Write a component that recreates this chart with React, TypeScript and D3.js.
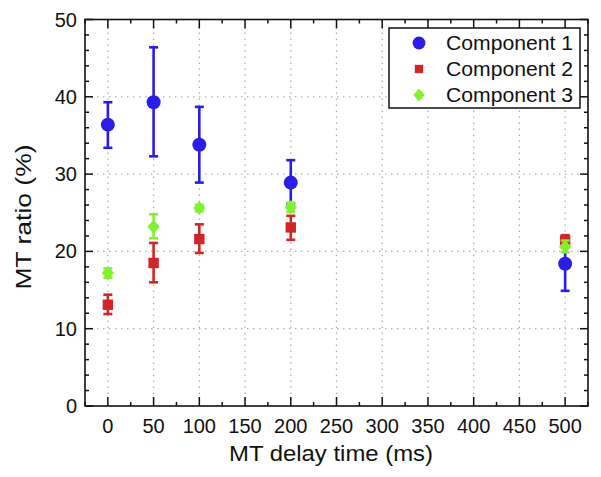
import React from "react";
import * as d3 from "d3";

const delays = [0, 50, 100, 200, 500];
const comp1 = [36.4, 39.3, 33.8, 28.9, 18.4];
const comp1Lo = [33.4, 32.3, 28.9, 26.2, 14.9];
const comp1Hi = [39.3, 46.4, 38.7, 31.8, 21.9];
const comp2 = [13.1, 18.5, 21.6, 23.1, 21.4];
const comp2Lo = [11.9, 16.0, 19.8, 21.5, 20.7];
const comp2Hi = [14.4, 21.1, 23.5, 24.6, 22.1];
const comp3 = [17.2, 23.2, 25.6, 25.7, 20.6];
const comp3Lo = [16.6, 21.7, 25.2, 25.1, 19.9];
const comp3Hi = [17.8, 24.8, 26.0, 26.3, 21.4];
const seriesNames = ["Component 1", "Component 2", "Component 3"];
const xTicks = [0, 50, 100, 150, 200, 250, 300, 350, 400, 450, 500];
const yTicks = [0, 10, 20, 30, 40, 50];

const colors = ["#2a1ee6", "#d02626", "#82f230"];
const FONT = "Liberation Sans, Arial, Helvetica, sans-serif";

export default function App() {
  const W = 601, H = 477;
  const x = d3.scaleLinear().domain([-25, 525]).range([85, 588]);
  const y = d3.scaleLinear().domain([0, 50]).range([406, 19.5]);
  const x0 = x(-25), x1 = x(525), y0 = y(0), y1 = y(50);

  const xMinor = d3.range(-25, 526, 25);
  const yMinor = d3.range(0, 51, 2);

  const series = [
    { v: comp1, lo: comp1Lo, hi: comp1Hi, shape: "circle" },
    { v: comp2, lo: comp2Lo, hi: comp2Hi, shape: "square" },
    { v: comp3, lo: comp3Lo, hi: comp3Hi, shape: "diamond" },
  ];

  const marker = (shape: string, cx: number, cy: number, color: string, s = 1, key?: any) => {
    if (shape === "circle") return <circle key={key} cx={cx} cy={cy} r={7 * s} fill={color} />;
    if (shape === "square") {
      const h = 5.2 * s;
      return <rect key={key} x={cx - h} y={cy - h} width={2 * h} height={2 * h} fill={color} />;
    }
    const h = 7 * s, w = 6.2 * s;
    return <path key={key} d={`M${cx},${cy - h}L${cx + w},${cy}L${cx},${cy + h}L${cx - w},${cy}Z`} fill={color} />;
  };

  return (
    <svg width={W} height={H} style={{ position: "absolute", left: 0, top: 0, background: "#fff" }}>
      <rect x={0} y={0} width={W} height={H} fill="#fff" />
      {/* grid */}
      {xTicks.map((t) => (
        <line key={"gx" + t} x1={x(t)} x2={x(t)} y1={y0} y2={y1} stroke="#b0b0b0" strokeWidth={1.3} strokeDasharray="1.5,4.5" />
      ))}
      {yTicks.slice(1, -1).map((t) => (
        <line key={"gy" + t} x1={x0} x2={x1} y1={y(t)} y2={y(t)} stroke="#b0b0b0" strokeWidth={1.3} strokeDasharray="1.5,4.5" />
      ))}
      {/* minor ticks */}
      {xMinor.map((t) => {
        const major = t % 50 === 0;
        const len = major ? 9 : 4;
        return (
          <g key={"xt" + t}>
            <line x1={x(t)} x2={x(t)} y1={y0} y2={y0 - len} stroke="#111" strokeWidth={1.5} />
            <line x1={x(t)} x2={x(t)} y1={y1} y2={y1 + len} stroke="#111" strokeWidth={1.5} />
          </g>
        );
      })}
      {yMinor.map((t) => {
        const major = t % 10 === 0;
        const len = major ? 8 : 4;
        return (
          <g key={"yt" + t}>
            <line x1={x0} x2={x0 + len} y1={y(t)} y2={y(t)} stroke="#111" strokeWidth={1.5} />
            <line x1={x1} x2={x1 - len} y1={y(t)} y2={y(t)} stroke="#111" strokeWidth={1.5} />
          </g>
        );
      })}
      <rect x={x0} y={y1} width={x1 - x0} height={y0 - y1} fill="none" stroke="#111" strokeWidth={1.6} />
      {/* tick labels */}
      {xTicks.map((t) => (
        <text key={"xl" + t} x={x(t)} y={433} textAnchor="middle" fontFamily={FONT} fontSize={20} fill="#111">{t}</text>
      ))}
      {yTicks.map((t) => (
        <text key={"yl" + t} x={77} y={y(t) + 7} textAnchor="end" fontFamily={FONT} fontSize={20} fill="#111">{t}</text>
      ))}
      <text x={331} y={461} textAnchor="middle" fontFamily={FONT} fontSize={22} fill="#111" textLength={204} lengthAdjust="spacingAndGlyphs">MT delay time (ms)</text>
      <text transform={`translate(31,217) rotate(-90)`} textAnchor="middle" fontFamily={FONT} fontSize={22} fill="#111" textLength={145} lengthAdjust="spacingAndGlyphs">MT ratio (%)</text>
      {/* data */}
      {series.map((s, si) => (
        <g key={"s" + si}>
          {delays.map((d, i) => (
            <g key={i}>
              <line x1={x(d)} x2={x(d)} y1={y(s.lo[i])} y2={y(s.hi[i])} stroke={colors[si]} strokeWidth={2.6} />
              <line x1={x(d) - 4.5} x2={x(d) + 4.5} y1={y(s.lo[i])} y2={y(s.lo[i])} stroke={colors[si]} strokeWidth={2.6} />
              <line x1={x(d) - 4.5} x2={x(d) + 4.5} y1={y(s.hi[i])} y2={y(s.hi[i])} stroke={colors[si]} strokeWidth={2.6} />
              {marker(s.shape, x(d), y(s.v[i]), colors[si])}
            </g>
          ))}
        </g>
      ))}
      {/* legend */}
      <rect x={389} y={28} width={191} height={80} fill="#fff" stroke="#111" strokeWidth={1.5} />
      {series.map((s, si) => (
        <g key={"lg" + si}>
          {marker(s.shape, 419, 43 + si * 26, colors[si], si === 1 ? 0.8 : 0.92)}
          <text x={446} y={43 + si * 26 + 7} fontFamily={FONT} fontSize={20} fill="#111" textLength={127} lengthAdjust="spacingAndGlyphs">{seriesNames[si]}</text>
        </g>
      ))}
    </svg>
  );
}
